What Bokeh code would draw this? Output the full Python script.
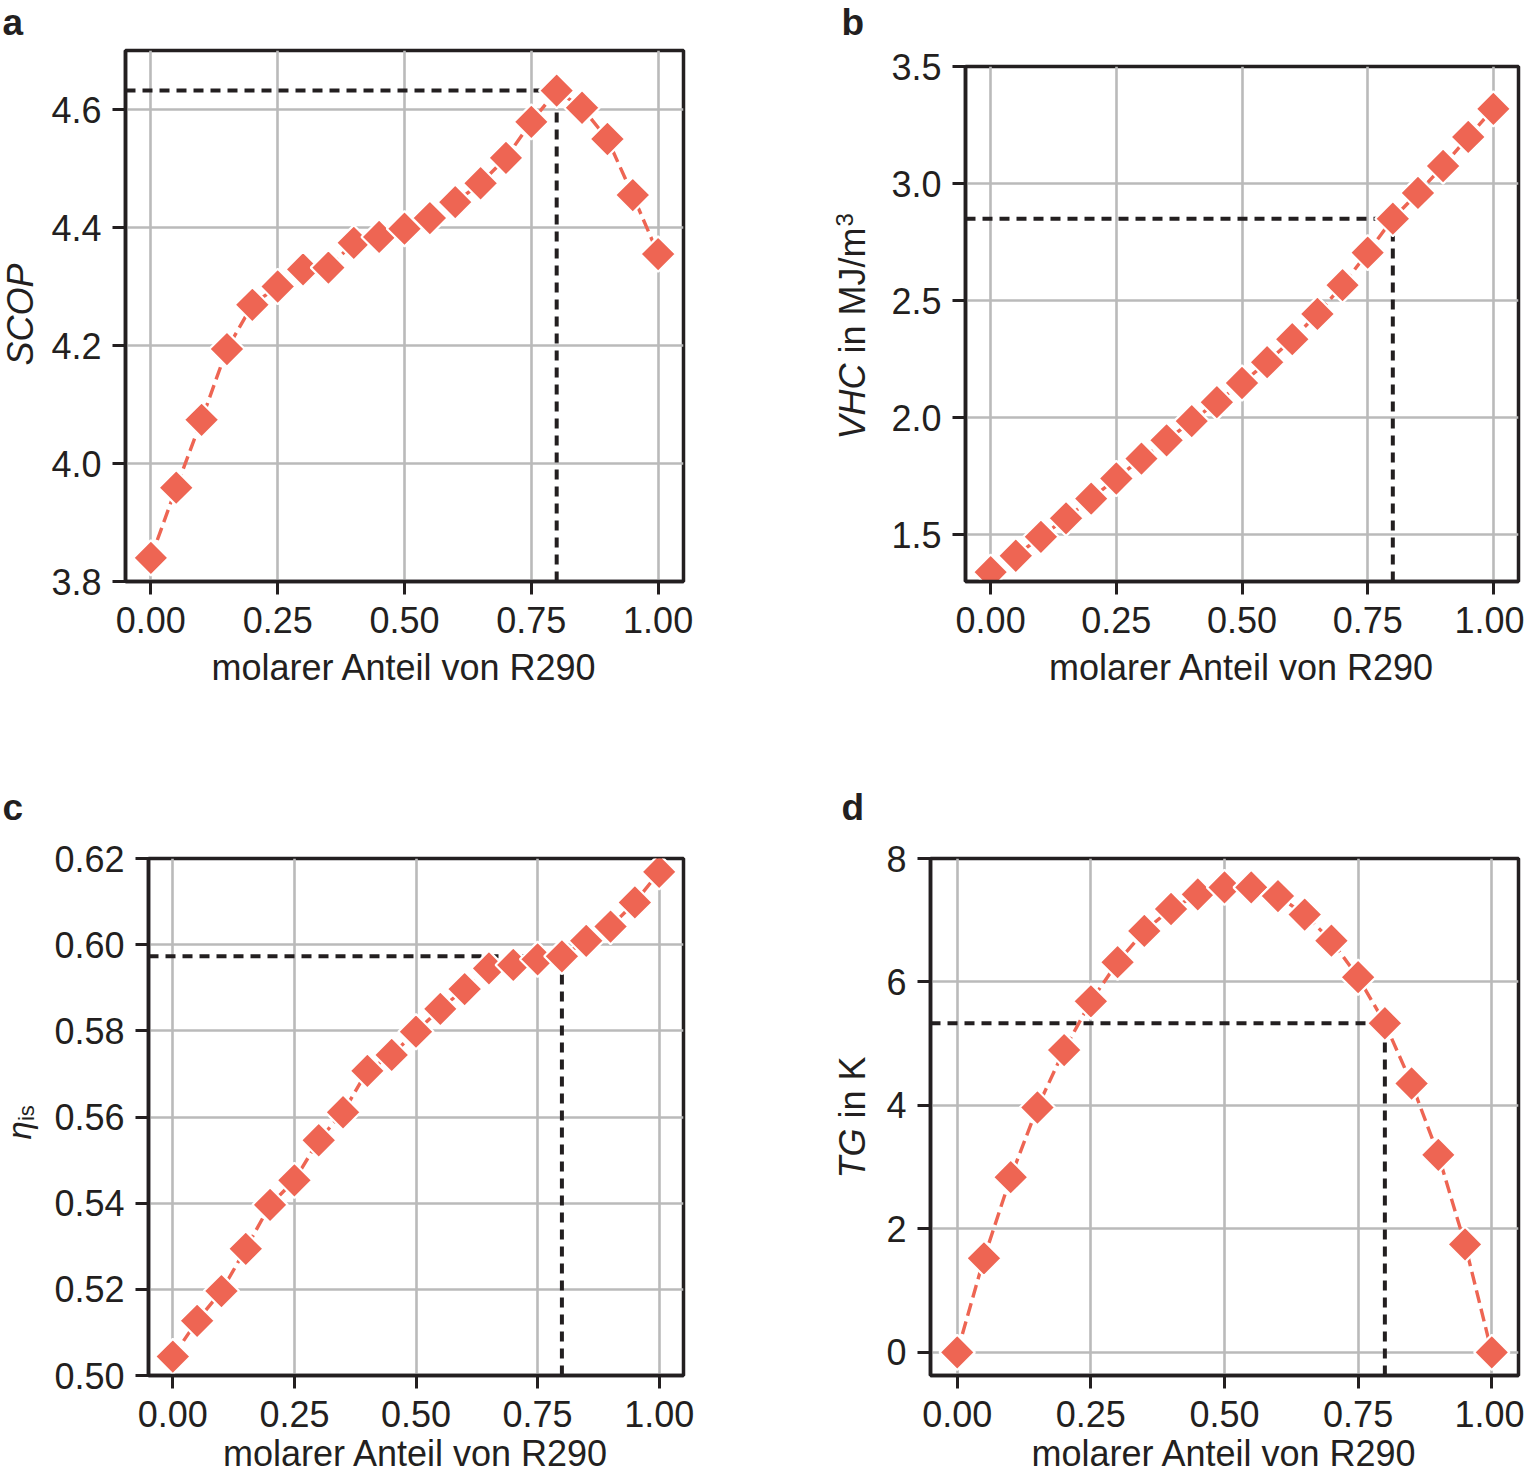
import math
from bokeh.plotting import figure
from bokeh.layouts import row, column
from bokeh.models import FixedTicker, Range1d, Label, Spacer
from bokeh.embed import file_html
from bokeh.resources import INLINE

# ---------------- data ----------------
X_FRAC = [0.00, 0.05, 0.10, 0.15, 0.20, 0.25, 0.30, 0.35, 0.40, 0.45, 0.50,
          0.55, 0.60, 0.65, 0.70, 0.75, 0.80, 0.85, 0.90, 0.95, 1.00]

SCOP = [3.840, 3.959, 4.074, 4.194, 4.269, 4.300, 4.329, 4.332, 4.374, 4.384, 4.398,
        4.416, 4.443, 4.475, 4.518, 4.579, 4.632, 4.603, 4.550, 4.455, 4.355]

VHC = [1.340, 1.410, 1.491, 1.570, 1.654, 1.740, 1.825, 1.903, 1.985, 2.066, 2.148,
       2.237, 2.335, 2.443, 2.566, 2.705, 2.850, 2.960, 3.075, 3.199, 3.319]

ETA_IS = [0.5044, 0.5127, 0.5196, 0.5294, 0.5396, 0.5453, 0.5546, 0.5611, 0.5707, 0.5744, 0.5798,
          0.5851, 0.5897, 0.5945, 0.5953, 0.5966, 0.5973, 0.6009, 0.6042, 0.6098, 0.6169]

TG = [0.000, 1.523, 2.838, 3.966, 4.897, 5.687, 6.320, 6.827, 7.182, 7.419, 7.532,
      7.532, 7.391, 7.092, 6.669, 6.077, 5.331, 4.355, 3.199, 1.749, 0.000]

SELECTED_INDEX = 16  # x = 0.80

X_TICKS = [0.0, 0.25, 0.5, 0.75, 1.0]
X_TICK_LABELS = ["0.00", "0.25", "0.50", "0.75", "1.00"]

SCOP_TICKS = [3.8, 4.0, 4.2, 4.4, 4.6]
SCOP_TICK_LABELS = ["3.8", "4.0", "4.2", "4.4", "4.6"]
VHC_TICKS = [1.5, 2.0, 2.5, 3.0, 3.5]
VHC_TICK_LABELS = ["1.5", "2.0", "2.5", "3.0", "3.5"]
ETA_TICKS = [0.50, 0.52, 0.54, 0.56, 0.58, 0.60, 0.62]
ETA_TICK_LABELS = ["0.50", "0.52", "0.54", "0.56", "0.58", "0.60", "0.62"]
TG_TICKS = [0, 2, 4, 6, 8]
TG_TICK_LABELS = ["0", "2", "4", "6", "8"]

X_LABEL = "molarer Anteil von R290"

# ---------------- style ----------------
FONT = "Liberation Sans"
FS = 36
SUB = 24
ORANGE = "#EE6553"
INK = "#231f20"
GRID = "#bababa"
XR = (-0.05, 1.05)
UP = math.pi / 2
BASE_SHIFT = 0.36  # label anchor correction (fraction of font size)


class Panel:
    def __init__(self, ys, y_range, yticks, ylabels, fig_w, fig_h, fig_x, fig_y,
                 frame_l, frame_r, frame_t, frame_b):
        self.fl, self.fr, self.ft, self.fb = frame_l, frame_r, frame_t, frame_b
        self.yr = y_range
        p = figure(width=fig_w, height=fig_h, output_backend="svg", toolbar_location=None,
                   x_range=Range1d(*XR), y_range=Range1d(*y_range),
                   min_border_left=frame_l - fig_x,
                   min_border_right=fig_x + fig_w - frame_r,
                   min_border_top=frame_t - fig_y,
                   min_border_bottom=fig_y + fig_h - frame_b,
                   background_fill_color="white", border_fill_color="white")
        p.outline_line_color = INK
        p.outline_line_width = 3.5
        p.xaxis.ticker = FixedTicker(ticks=X_TICKS)
        p.xaxis.major_label_overrides = dict(zip(X_TICKS, X_TICK_LABELS))
        p.yaxis.ticker = FixedTicker(ticks=yticks)
        p.yaxis.major_label_overrides = dict(zip(yticks, ylabels))
        for ax in (p.xaxis, p.yaxis):
            ax.axis_line_color = INK
            ax.axis_line_width = 3.5
            ax.major_tick_line_color = INK
            ax.major_tick_line_width = 3
            ax.major_tick_out = 13
            ax.major_tick_in = 0
            ax.minor_tick_line_color = None
            ax.major_label_text_font = FONT
            ax.major_label_text_font_size = f"{FS}px"
            ax.major_label_text_color = INK
        p.xaxis.major_label_standoff = 12
        p.yaxis.major_label_standoff = 11
        p.xgrid.ticker = FixedTicker(ticks=X_TICKS)
        p.ygrid.ticker = FixedTicker(ticks=yticks)
        p.grid.grid_line_color = GRID
        p.grid.grid_line_width = 2.6

        xs = X_FRAC[SELECTED_INDEX]
        ysel = ys[SELECTED_INDEX]
        p.line([XR[0], xs], [ysel, ysel], line_color=INK, line_width=4, line_dash="10 7")
        p.line([xs, xs], [y_range[0], ysel], line_color=INK, line_width=4, line_dash="10 7")

        p.line(X_FRAC, ys, line_color=ORANGE, line_width=3.4, line_dash="13 6")
        p.scatter(X_FRAC, ys, marker="square", size=25, angle=math.pi / 4,
                  fill_color=ORANGE, line_color="white", line_width=2.2)
        self.p = p

    def to_data(self, px, py):
        x = XR[0] + (px - self.fl) / (self.fr - self.fl) * (XR[1] - XR[0])
        y = self.yr[1] - (py - self.ft) / (self.fb - self.ft) * (self.yr[1] - self.yr[0])
        return x, y

    def text(self, side, txt, px, py, size=FS, style="normal", angle=0.0, align="left"):
        # (px, py): wanted baseline anchor in page pixels
        if angle == 0.0:
            py -= BASE_SHIFT * size
        else:
            px -= BASE_SHIFT * size
        x, y = self.to_data(px, py)
        self.p.add_layout(Label(x=x, y=y, text=txt, text_font=FONT,
                                text_font_size=f"{size}px", text_font_style=style,
                                text_color=INK, angle=angle, text_align=align,
                                text_baseline="alphabetic"), side)


W2 = 762
H2 = 737

# panel a (top-left)
A = Panel(SCOP, (3.8, 4.7), SCOP_TICKS, SCOP_TICK_LABELS, W2, H2, 0, 0, 125, 683, 50, 581)
A.text("right", "a", 2, 35, size=37, style="bold")
A.text("left", "SCOP", 33, 314, style="italic", angle=UP, align="center")
A.text("below", X_LABEL, 404, 680, align="center")

# panel b (top-right) -- followed by a 16px spacer
B = Panel(VHC, (1.3, 3.5), VHC_TICKS, VHC_TICK_LABELS, W2, H2 - 16, 762, 0, 965, 1518, 66, 581)
B.text("above", "b", 841, 35, size=37, style="bold")
w1 = 2.111 * FS
w_sp = 0.278 * FS
w2 = 3.5 * FS
start = 439
B.text("left", "VHC", 865, start, style="italic", angle=UP)
B.text("left", "in MJ/m", 865, start - w1 - w_sp, angle=UP)
B.text("left", "3", 853, start - w1 - w_sp - w2 - 1, size=SUB, angle=UP)
B.text("below", X_LABEL, (965 + 1518) / 2, 680, align="center")

# panel c (bottom-left)
C = Panel(ETA_IS, (0.50, 0.62), ETA_TICKS, ETA_TICK_LABELS, W2, H2, 0, H2, 148, 683, 858, 1375)
C.text("above", "c", 2, 820, size=37, style="bold")
C.text("above", X_LABEL, (148 + 683) / 2, 1466, align="center")
ETA_FS = 33
C.text("left", "η", 31, 1139, size=ETA_FS, style="italic", angle=UP)
C.text("right", "is", 34, 1139 - 0.56 * ETA_FS, size=22, angle=UP)

# panel d (bottom-right)
D = Panel(TG, (-0.375, 8.0), TG_TICKS, TG_TICK_LABELS, W2, H2, 762, H2, 930, 1518, 858, 1375)
D.text("above", "d", 841, 820, size=37, style="bold")
D.text("above", X_LABEL, (930 + 1518) / 2, 1466, align="center")
wt = 1.389 * FS
start = 1178
D.text("left", "TG", 865, start, style="italic", angle=UP)
D.text("left", "in K", 865, start - wt - w_sp, angle=UP)

layout = column(row(A.p, column(B.p, Spacer(width=W2, height=16))),
                row(C.p, D.p))

open("out.html", "w").write(file_html(layout, INLINE))
